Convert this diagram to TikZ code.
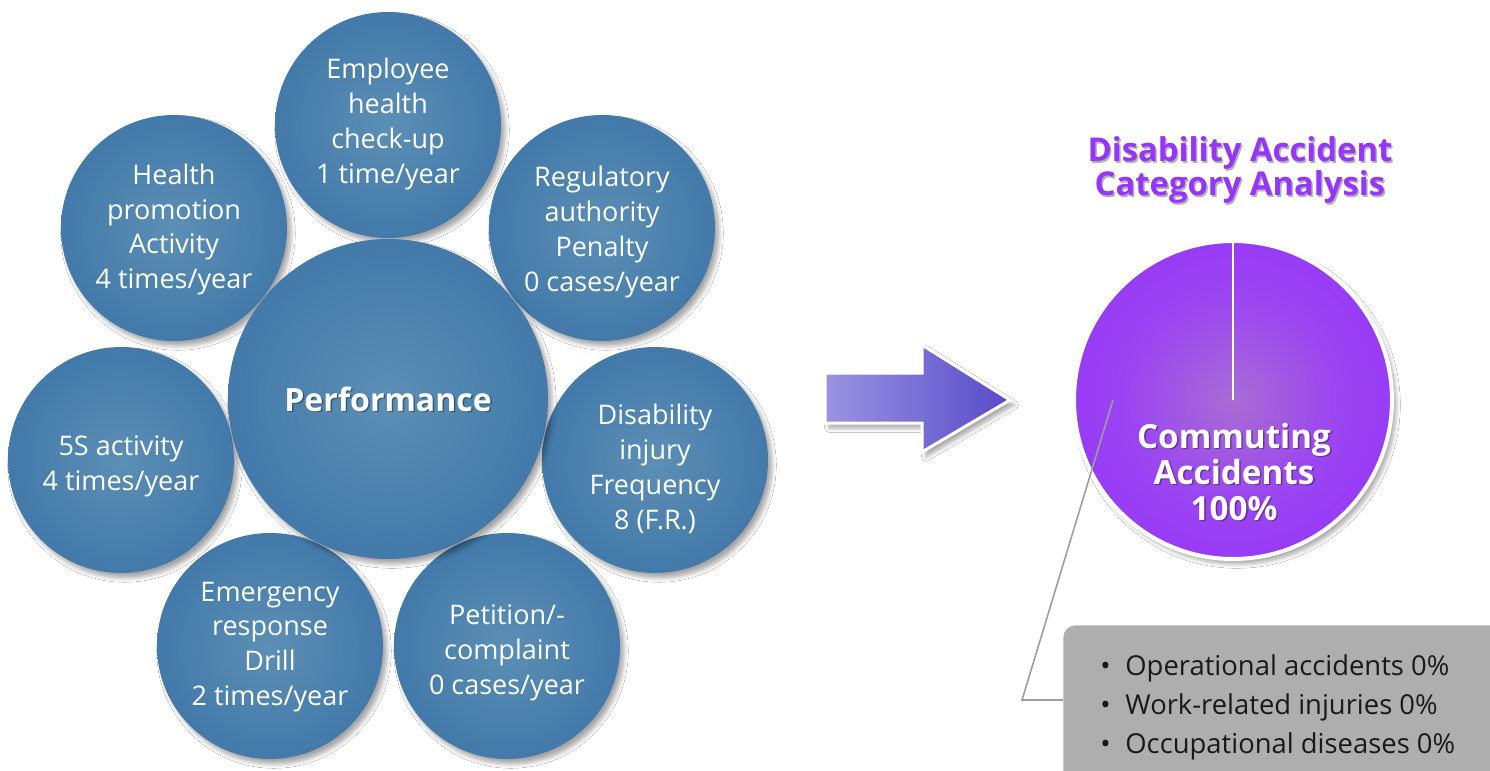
\documentclass[tikz,border=0pt]{standalone}
\usepackage{fontspec}
\setmainfont{Open Sans}
\usetikzlibrary{shadows.blur}
\definecolor{ballin}{RGB}{92,143,181}
\definecolor{ballmid}{RGB}{64,119,168}
\definecolor{ballout}{RGB}{50,106,162}
\definecolor{piein}{RGB}{168,108,212}
\definecolor{piemid}{RGB}{155,70,240}
\definecolor{pieout}{RGB}{150,50,252}
\definecolor{titlepurple}{RGB}{152,52,255}
\definecolor{arrowL}{RGB}{154,148,226}
\definecolor{arrowR}{RGB}{88,74,200}
\definecolor{boxgray}{RGB}{174,174,174}
\definecolor{leadgray}{RGB}{158,158,158}
\definecolor{boxtext}{RGB}{25,25,25}
\pgfdeclareradialshading{ballshade}{\pgfpoint{0bp}{0bp}}{color(0bp)=(ballin); color(28bp)=(ballmid); color(50bp)=(ballout)}
\pgfdeclareradialshading{pieshade}{\pgfpoint{0bp}{0bp}}{color(0bp)=(piein); color(16bp)=(piemid); color(32bp)=(pieout); color(50bp)=(pieout)}
\tikzset{
  softshadow/.style={blur shadow={shadow xshift=2pt, shadow yshift=-2.5pt, shadow blur steps=6, shadow opacity=35}},
  ball/.style={circle, minimum size=113pt, inner sep=0pt, shading=ballshade, softshadow},
  bigball/.style={ball, minimum size=160pt},
  balltext/.style={text=white, align=center, font=\fontsize{13.5}{17.4}\selectfont},
  txtshadow/.style={text=black, opacity=0.35},
  titletext/.style={align=center, font=\bfseries\fontsize{16.4}{17}\selectfont},
  pietext/.style={align=center, font=\bfseries\fontsize{16.6}{18}\selectfont},
  perftext/.style={font=\bfseries\fontsize{16}{19}\selectfont},
  leader/.style={draw=leadgray, line width=0.8pt},
}
\begin{document}
\begin{tikzpicture}[x=0.5pt, y=-0.5pt]
\useasboundingbox (0,0) rectangle (1490,771);
\fill[white] (0,0) rectangle (1490,771);
\clip (0,0) rectangle (1490,771);

% outer circles
\node[ball] (employee) at (388,125) {};
\node[ball] (healthpro) at (174,228) {};
\node[ball] (regulatory) at (602,228) {};
\node[ball] (fives) at (121,460) {};
\node[ball] (disab) at (655,460) {};
\node[ball] (emergency) at (270,646) {};
\node[ball] (petition) at (507,646) {};
\node[balltext] (employeetxt) at (388,124) {Employee\\health\\check-up\\1 time/year};
\node[balltext] (healthprotxt) at (174,229.5) {Health\\promotion\\Activity\\4 times/year};
\node[balltext] (regulatorytxt) at (602,232) {Regulatory\\authority\\Penalty\\0 cases/year};
\node[balltext] (fivestxt) at (121,466) {5S activity\\4 times/year};
\node[balltext] (disabtxt) at (655,469) {Disability\\injury\\Frequency\\8 (F.R.)};
\node[balltext] (emergencytxt) at (270,647) {Emergency\\response\\Drill\\2 times/year};
\node[balltext] (petitiontxt) at (507,653) {Petition/-\\complaint\\0 cases/year};
% center circle
\node[bigball] (perf) at (388,399) {};
\node[perftext, txtshadow] (perfsh) at (389.5,400.5) {Performance};
\node[perftext, text=white] (perftxt) at (388,399) {Performance};

% arrow
\path[draw=white, line width=1.5pt, left color=arrowL, right color=arrowR, softshadow]
  (825,373) -- (922,373) -- (922,345) -- (1010,400) -- (922,452) -- (922,423) -- (825,423) -- cycle;

% title
\node[titletext, txtshadow, opacity=0.3] (titlesh) at (1241.5,171.5) {Disability Accident\\Category Analysis};
\node[titletext, text=titlepurple] (title) at (1240,170) {Disability Accident\\Category Analysis};

% pie
\node[circle, minimum size=159pt, inner sep=0pt, shading=pieshade, draw=white, line width=2pt, softshadow] (pie) at (1233,400) {};
\draw[white, line width=1.2pt] (pie.center) -- (pie.north);
\node[pietext, txtshadow] (commsh) at (1235.5,473.5) {Commuting\\Accidents\\100\%};
\node[pietext, text=white] (comm) at (1234,472) {Commuting\\Accidents\\100\%};

% box and leader
\node[fill=boxgray, rounded corners=6pt, minimum width=230pt, minimum height=90pt, anchor=north west, inner sep=0pt] (box) at (1063,625) {};
\coordinate (lead) at (1113,400);
\coordinate (bend) at (1022,700);
\draw[leader] (lead) -- (bend) -- (bend -| box.west);
\node[anchor=west, align=left, text=boxtext, font=\fontsize{13.7}{19.5}\selectfont, inner sep=0pt] (bullets) at (1100,707)
  {\makebox[12.5pt][l]{\textbullet}Operational accidents 0\%\\
   \makebox[12.5pt][l]{\textbullet}Work-related injuries 0\%\\
   \makebox[12.5pt][l]{\textbullet}Occupational diseases 0\%};
\end{tikzpicture}
\end{document}
